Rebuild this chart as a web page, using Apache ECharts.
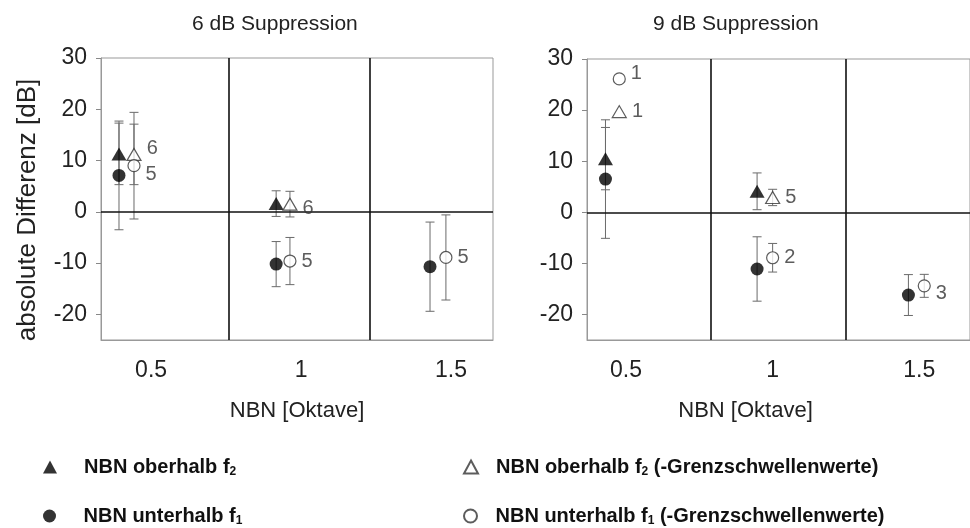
<!DOCTYPE html>
<html><head><meta charset="utf-8">
<script src="https://cdn.jsdelivr.net/npm/echarts@6/dist/echarts.min.js"></script>
<style>html,body{margin:0;padding:0;background:#fff}#c{width:970px;height:528px}</style>
</head><body><div id="c"></div>
<script>
// ---- tick labels ----
const tickLabelsX = [0.5, 1, 1.5];
const tickLabelsY = [-20, -10, 0, 10, 20, 30];
const panelTitles = ['6 dB Suppression', '9 dB Suppression'];
const seriesNames = ['NBN oberhalb f2', 'NBN oberhalb f2 (-Grenzschwellenwerte)',
                     'NBN unterhalb f1', 'NBN unterhalb f1 (-Grenzschwellenwerte)'];

// ---- marker x positions (NBN in octaves, as drawn) ----
const xFilled6 = [0.393, 0.917, 1.43];
const xOpen6   = [0.443, 0.963, 1.483];
const xFilled9 = [0.43, 0.947, 1.463];
const xOpen9   = [0.477, 1.0, 1.517];

// ---- 6 dB suppression ----
const triFilled6     = [11.3, 1.6, null];
const triFilled6Err  = [6.0, 2.5, null];
const triOpen6       = [11.2, 1.5, null];
const triOpen6Err    = [5.9, 2.5, null];
const circFilled6    = [7.1, -10.2, -10.7];
const circFilled6Err = [10.6, 4.4, 8.7];
const circOpen6      = [9.0, -9.6, -8.9];
const circOpen6Err   = [10.4, 4.6, 8.3];
const nTriOpen6      = ['6', '6', ''];
const nCircOpen6     = ['5', '5', '5'];

// ---- 9 dB suppression ----
const triFilled9     = [10.5, 4.1, null];
const triFilled9Err  = [6.1, 3.6, null];
const triOpen9       = [19.7, 2.9, null];
const triOpen9Err    = [null, 1.6, null];
const circFilled9    = [6.5, -11.1, -16.2];
const circFilled9Err = [11.6, 6.3, 4.0];
const circOpen9      = [26.1, -8.9, -14.4];
const circOpen9Err   = [null, 2.8, 2.25];
const nTriOpen9      = ['1', '5', ''];
const nCircOpen9     = ['1', '2', '3'];

// ---- panel dividers (octave axis units) ----
const dividers6 = [0.76, 1.233];
const dividers9 = [0.787, 1.253];

// ---- label vertical nudges (style only, px) ----
const nudgeTri6 = [-6, 4, 0], nudgeCirc6 = [9, 0, 0];
const nudgeTri9 = [0, 0, 0],  nudgeCirc9 = [-5, 0, 8];

const FONT = 'Liberation Sans, Arial, sans-serif';

function pts(xs, ys, labels, nudge) {
  const out = [];
  xs.forEach((x, i) => {
    if (ys[i] == null) return;
    const item = { value: [x, ys[i], labels ? labels[i] : ''] };
    if (nudge) item.label = { offset: [0, nudge[i]] };
    out.push(item);
  });
  return out;
}
function errs(xs, ys, es) {
  const out = [];
  xs.forEach((x, i) => { if (ys[i] != null && es[i] != null) out.push([x, ys[i], es[i]]); });
  return out;
}
function renderErr(params, api) {
  const x = api.value(0), y = api.value(1), e = api.value(2);
  const t = api.coord([x, y + e]), b = api.coord([x, y - e]);
  const w = 4.5;
  const st = { stroke: '#6a6a6a', lineWidth: 1 };
  return { type: 'group', children: [
    { type: 'line', shape: { x1: t[0], y1: t[1], x2: b[0], y2: b[1] }, style: st },
    { type: 'line', shape: { x1: t[0] - w, y1: t[1], x2: t[0] + w, y2: t[1] }, style: st },
    { type: 'line', shape: { x1: b[0] - w, y1: b[1], x2: b[0] + w, y2: b[1] }, style: st }
  ]};
}

const styleFilled = { color: '#000' };
const styleOpen = { color: '#fff', borderColor: '#333', borderWidth: 1.2 };
const ptLabel = { show: true, position: 'right', distance: 5, fontSize: 20, color: '#333',
                  fontFamily: FONT, formatter: p => p.value[2] };

function panelSeries(gi, d) {
  const ax = { xAxisIndex: gi, yAxisIndex: gi };
  const errSeries = (data) => Object.assign({ type: 'custom', renderItem: renderErr, data: data,
    encode: { x: 0, y: 1 }, z: 2, silent: true }, ax);
  return [
    Object.assign({ type: 'scatter', data: [], silent: true,
      markLine: { silent: true, symbol: 'none', label: { show: false },
        lineStyle: { color: '#111', width: 1.6, type: 'solid' },
        data: d.div.map(v => ({ xAxis: v })).concat([{ yAxis: 0 }]) } }, ax),
    errSeries(errs(d.xf, d.tf, d.tfe)),
    errSeries(errs(d.xo, d.to, d.toe)),
    errSeries(errs(d.xf, d.cf, d.cfe)),
    errSeries(errs(d.xo, d.co, d.coe)),
    Object.assign({ type: 'scatter', name: seriesNames[0], symbol: 'triangle', symbolSize: [15, 13],
      itemStyle: styleFilled, z: 5, data: pts(d.xf, d.tf) }, ax),
    Object.assign({ type: 'scatter', name: seriesNames[2], symbol: 'circle', symbolSize: 13,
      itemStyle: styleFilled, z: 5, data: pts(d.xf, d.cf) }, ax),
    Object.assign({ type: 'scatter', name: seriesNames[1], symbol: 'triangle', symbolSize: [14, 12],
      itemStyle: styleOpen, z: 6, label: ptLabel, data: pts(d.xo, d.to, d.nt, d.ntn) }, ax),
    Object.assign({ type: 'scatter', name: seriesNames[3], symbol: 'circle', symbolSize: 12,
      itemStyle: styleOpen, z: 6, label: ptLabel, data: pts(d.xo, d.co, d.nc, d.ncn) }, ax)
  ];
}

function xAx(gi, min, max, namePad) {
  return { type: 'value', gridIndex: gi, min: min, max: max,
    axisLine: { show: true, onZero: false, lineStyle: { color: '#999', width: 1 } },
    axisTick: { show: false }, splitLine: { show: false },
    axisLabel: { customValues: tickLabelsX, fontSize: 23, color: '#222', margin: 19, fontFamily: FONT },
    name: 'NBN [Oktave]', nameLocation: 'middle', nameGap: 60,
    nameTextStyle: { fontSize: 22, color: '#222', fontFamily: FONT, padding: namePad } };
}
function yAx(gi, withName) {
  const a = { type: 'value', gridIndex: gi, min: -25, max: 30,
    axisLine: { show: true, lineStyle: { color: '#999', width: 1 } },
    axisTick: { show: true, customValues: tickLabelsY, length: 5, lineStyle: { color: '#888' } },
    splitLine: { show: false },
    axisLabel: { customValues: tickLabelsY, fontSize: 23, color: '#222', margin: 14, fontFamily: FONT } };
  if (withName) Object.assign(a, { name: 'absolute Differenz [dB]', nameLocation: 'middle', nameGap: 60,
    nameTextStyle: { fontSize: 26, color: '#222', fontFamily: FONT, padding: [0, 22, 0, 0] } });
  return a;
}

const fmt = name => name.replace(/f([12])/, 'f{s|$1}');
function legendItem(name, left, top, textPad) {
  return { data: [name], left: left, top: top, padding: 0, itemWidth: 14, itemHeight: 13,
    selectedMode: false, formatter: fmt,
    textStyle: { fontSize: 20, fontWeight: 'bold', color: '#111', fontFamily: FONT, padding: [0, 0, 0, textPad],
      rich: { s: { fontSize: 12, fontWeight: 'bold', color: '#111', fontFamily: FONT, padding: [10, 0, 0, 0] } } } };
}

const option = {
  animation: false,
  backgroundColor: '#fff',
  textStyle: { fontFamily: FONT },
  title: [
    { text: panelTitles[0], left: 187, top: 9, textStyle: { fontSize: 21, fontWeight: 'normal', color: '#222', fontFamily: FONT } },
    { text: panelTitles[1], left: 648, top: 9, textStyle: { fontSize: 21, fontWeight: 'normal', color: '#222', fontFamily: FONT } }
  ],
  legend: [
    legendItem(seriesNames[0], 43, 457, 22),
    legendItem(seriesNames[2], 43, 506, 22),
    legendItem(seriesNames[1], 463, 457, 13),
    legendItem(seriesNames[3], 463, 506, 13)
  ],
  grid: [
    { left: 101, top: 58, width: 392, height: 282, show: true, borderColor: '#999', borderWidth: 1 },
    { left: 587, top: 59, width: 392, height: 281, show: true, borderColor: '#999', borderWidth: 1 }
  ],
  xAxis: [xAx(0, 0.333, 1.64, [0, 0, 0, 0]), xAx(1, 0.367, 1.673, [0, 66, 0, 0])],
  yAxis: [yAx(0, true), yAx(1, false)],
  series: [].concat(
    panelSeries(0, { xf: xFilled6, xo: xOpen6, tf: triFilled6, tfe: triFilled6Err, to: triOpen6, toe: triOpen6Err,
      cf: circFilled6, cfe: circFilled6Err, co: circOpen6, coe: circOpen6Err, nt: nTriOpen6, nc: nCircOpen6,
      ntn: nudgeTri6, ncn: nudgeCirc6, div: dividers6 }),
    panelSeries(1, { xf: xFilled9, xo: xOpen9, tf: triFilled9, tfe: triFilled9Err, to: triOpen9, toe: triOpen9Err,
      cf: circFilled9, cfe: circFilled9Err, co: circOpen9, coe: circOpen9Err, nt: nTriOpen9, nc: nCircOpen9,
      ntn: nudgeTri9, ncn: nudgeCirc9, div: dividers9 })
  )
};
const chart = echarts.init(document.getElementById('c'), null, { renderer: 'canvas' });
chart.setOption(option);
</script></body></html>
